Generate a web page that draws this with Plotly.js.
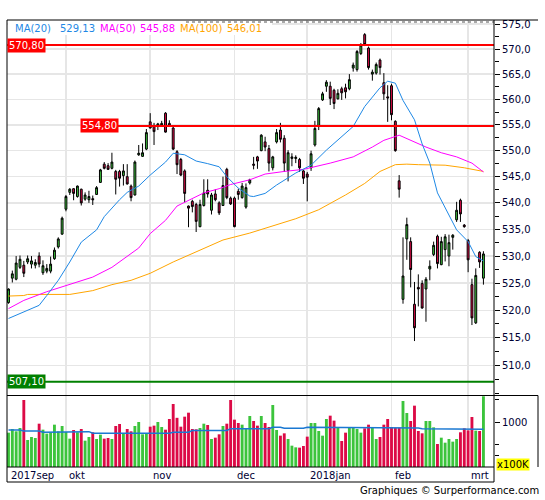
<!DOCTYPE html>
<html><head><meta charset="utf-8">
<script src="https://cdn.plot.ly/plotly-3.0.1.min.js"></script>
<style>html,body{margin:0;padding:0;background:#fff;}#chart{width:545px;height:500px;}</style>
</head><body><div id="chart"></div>
<script>
// ---- data (index = trading day, 0 = 11 Sep 2017) ----
const openP = [521.4,525.9,525.7,527.9,528.3,528.9,528.5,528.3,530.0,526.9,
527.2,527.2,529.5,531.7,534.1,538.8,542.0,542.7,541.2,542.6,
540.7,540.6,540.8,541.6,543.9,547.4,547.1,546.6,546.0,546.0,
545.2,545.0,543.2,541.5,549.2,548.9,550.3,555.6,554.9,554.8,
554.8,557.3,555.3,554.4,549.8,548.3,546.1,539.4,540.3,539.7,
535.5,539.5,542.4,538.6,541.7,540.0,539.5,546.4,540.9,540.9,
542.2,541.0,539.2,543.8,547.4,548.8,550.0,551.7,550.4,546.7,
551.7,554.0,552.4,546.2,548.5,548.5,548.3,546.1,545.5,546.7,
551.1,554.7,559.9,562.6,562.6,561.8,560.1,562.1,562.3,562.1,
566.2,565.9,569.1,572.9,570.2,565.0,565.2,567.8,563.3,560.5,
562.7,555.7,544.2,522.0,533.2,532.7,521.1,524.2,524.9,523.9,
527.6,530.3,533.7,528.4,531.2,530.0,533.5,536.8,540.5,535.8,
532.9,524.7,517.7,530.7,525.9];
const highP = [524.0,527.3,530.0,530.1,529.1,530.1,530.0,529.4,530.7,529.2,
528.5,529.9,531.6,533.5,537.4,541.5,542.8,542.8,543.3,542.7,
542.0,542.3,541.4,543.2,546.5,547.8,547.6,549.6,546.3,546.3,
547.4,547.4,543.5,548.1,551.1,551.4,554.2,557.3,555.4,555.4,
555.8,557.5,555.9,554.6,550.1,548.6,546.4,539.5,540.6,540.0,
540.6,544.5,544.5,541.9,542.6,540.3,545.0,546.7,541.2,541.2,
542.7,543.8,543.7,544.6,548.8,549.0,553.2,552.7,551.1,549.0,
554.2,555.4,553.0,550.1,549.5,549.1,548.6,546.3,545.9,550.0,
555.8,558.5,561.5,563.8,563.5,562.1,562.0,562.5,563.1,565.0,
567.3,569.8,571.2,573.2,570.5,565.9,567.3,568.1,565.2,562.8,
563.1,555.9,545.3,533.5,537.2,533.5,525.2,526.6,525.5,526.1,
529.2,532.7,534.0,533.6,534.1,534.0,534.1,540.2,540.8,536.0,
533.2,525.8,527.7,530.9,530.9];
const lowP = [521.2,525.1,525.5,527.6,526.1,528.5,527.7,527.7,527.9,526.5,
526.8,526.8,529.3,531.4,534.0,538.4,541.5,540.5,541.0,539.5,
540.4,540.0,539.6,541.5,543.8,546.4,546.3,546.4,541.6,543.1,
543.3,543.5,540.3,541.4,549.0,548.8,550.1,554.3,551.1,554.0,
554.7,553.5,554.7,550.1,545.5,545.1,540.1,535.4,538.2,534.5,
535.4,539.3,541.0,537.8,540.3,537.7,539.4,540.7,539.6,535.4,
540.6,540.8,538.9,543.5,546.4,546.5,549.9,549.9,546.0,546.2,
551.4,551.6,545.9,544.1,547.0,547.6,545.9,543.6,540.3,546.1,
550.8,554.0,559.7,561.5,558.9,558.1,560.0,559.9,560.2,561.8,
565.5,565.5,568.8,570.6,565.9,563.7,564.9,564.9,559.9,555.6,
555.9,549.8,541.0,521.2,529.3,524.2,514.4,520.7,520.3,517.9,
525.5,530.0,527.7,528.3,529.0,528.1,531.2,536.4,536.4,535.3,
527.0,517.3,517.5,527.8,524.7];
const closeP = [523.9,526.7,528.7,529.4,526.8,529.5,529.1,528.8,528.5,528.2,
527.7,528.5,531.1,533.2,537.1,541.2,542.6,541.8,543.2,540.0,
541.5,541.2,540.6,542.9,546.3,546.6,546.4,547.8,544.5,544.7,
546.1,543.6,541.0,547.8,549.5,549.6,553.5,554.4,553.7,555.2,
555.3,553.6,554.8,550.3,547.3,545.3,541.8,539.0,539.3,536.5,
539.7,541.9,541.7,541.5,540.6,538.1,543.3,541.0,539.8,535.5,
541.6,543.2,542.9,544.4,547.2,548.0,553.0,550.7,547.6,548.8,
553.5,552.2,547.6,549.6,548.8,548.7,546.7,544.7,544.9,549.4,
554.3,558.2,561.1,563.4,560.2,559.2,561.2,561.3,561.5,563.9,
566.8,569.5,570.8,570.9,566.3,565.4,566.9,566.3,561.1,560.3,
557.0,550.0,542.6,526.3,535.9,527.5,516.8,523.9,520.4,525.7,
528.1,532.0,528.6,532.7,533.6,532.5,533.9,538.6,537.9,535.5,
529.3,518.6,526.4,528.9,530.4];
// volume in units of 100K
const volume = [768,850,798,872,1499,604,671,649,969,835,
746,776,947,798,917,783,634,828,776,850,
589,671,776,626,723,634,649,626,917,962,
761,850,798,917,1007,731,761,902,925,1007,
895,835,1074,1409,1100,902,1126,1215,850,843,
872,969,940,626,656,731,917,969,1499,1059,
984,947,872,1141,1029,925,1141,984,895,1387,
828,701,753,626,477,440,433,470,679,984,
984,805,701,1074,1148,1037,887,582,768,880,
880,850,768,865,947,880,626,671,947,1074,
895,880,880,1476,1208,1029,1372,805,753,1029,
1029,887,515,656,544,626,567,626,776,865,
820,1119,813,805,1582];
const volMaIdx = [0,3,4,8,9,16,17,21,22,42,43,47,48,57,58,68,69,71,72,77,78,95,96,107,108,117,118,124];
const volMaVal = [828,828,805,805,776,776,790,790,754,754,776,776,816,816,857,857,888,888,865,865,888,888,872,872,857,857,843,843];
const ma20Idx = [0,4,8,10,13,16,19,23,25,29,31,34,37,41,43,46,49,52,55,57,60,63,64,67,70,75,79,83,86,90,93,97,99,101,103,106,108,110,112,115,117,120,122,124];
const ma20Val = [518.5,519.7,520.9,522.7,525.5,528.9,532.6,534.9,537.4,540.6,542.0,543.2,545.3,547.8,549.5,549.2,548.0,547.5,546.9,545.0,542.8,541.3,541.2,541.8,543.4,545.7,547.2,550.1,552.0,554.7,558.6,562.3,563.6,563.2,559.8,556.0,551.3,547.6,541.9,537.5,534.9,532.7,529.9,529.1];
const ma50Idx = [0,4,10,17,22,27,31,34,37,41,44,48,51,55,58,63,67,72,77,84,90,95,98,102,104,109,113,117,121,124];
const ma50Val = [520.3,521.8,523.4,524.9,526.1,527.9,530.0,531.5,534.2,536.7,539.4,540.9,541.9,542.7,543.5,544.4,545.5,546.0,546.4,547.6,548.8,550.7,552.0,553.0,552.3,550.7,549.6,548.8,547.6,545.9];
const ma100Idx = [0,4,5,16,22,27,32,37,43,50,56,63,75,81,88,93,97,101,104,107,114,119,124];
const ma100Val = [522.6,522.7,522.9,522.9,523.6,524.7,525.5,526.8,528.9,531.1,533.0,534.3,537.0,538.7,541.5,543.7,546.0,547.3,547.4,547.3,547.2,546.7,546.0];
const monthIdx = [0,15,37,59,78,100,120];
const monthLabels = ['2017sep','okt','nov','dec','2018jan','feb','mrt'];
const levels = [570.8, 554.8, 507.1];
const levelLabels = ['570,80','554,80','507,10'];
const legendNames = ['MA(20)','529,13','MA(50)','545,88','MA(100)','546,01'];
const priceTicks = [510,515,520,525,530,535,540,545,550,555,560,565,570,575];
const priceMinor = [505,507.5,512.5,517.5,522.5,527.5,532.5,537.5,542.5,547.5,552.5,557.5,562.5,567.5,572.5];
const volTicks = [1000];
const volMinor = [250,500,1500];

// ---- layout helpers ----
const W=545,H=500,ML=7,MR=51,MT=20,MB=33;
const PW=W-ML-MR, PH=H-MT-MB;
const PX = p => (p-ML)/PW;
const PY = p => (H-MB-p)/PH;
const XR = [-0.39, 126.76];
const PR = [Math.log10(504.65), Math.log10(575.85)];
const PD = [PY(395.5), 1];
const VD = [0, PY(396)];
const pYprice = v => PD[0] + (Math.log10(v)-PR[0])/(PR[1]-PR[0])*(PD[1]-PD[0]);

const GREEN='#3cc43c', RED='#dc0a46';
const C20='#1e88e5', C50='#ff00ff', C100='#ffa500';
const idx = openP.map((_,i)=>i);
const volColors = idx.map(i => closeP[i] > openP[i] ? GREEN : RED);

const traces = [
  {type:'bar', x:idx, y:volume, xaxis:'x', yaxis:'y2', width:0.75,
   marker:{color:volColors, line:{width:0}}, hoverinfo:'skip'},
  {type:'scatter', mode:'lines', x:volMaIdx, y:volMaVal, xaxis:'x', yaxis:'y2',
   line:{color:'#1a78d2', width:1.5}, hoverinfo:'skip'},
  {type:'candlestick', x:idx, open:openP, high:highP, low:lowP, close:closeP,
   xaxis:'x', yaxis:'y', whiskerwidth:0,
   increasing:{line:{color:'#000', width:1}, fillcolor:GREEN},
   decreasing:{line:{color:'#000', width:1}, fillcolor:RED}, hoverinfo:'skip'},
  {type:'scatter', mode:'lines', x:ma100Idx, y:ma100Val, line:{color:C100, width:1}, hoverinfo:'skip'},
  {type:'scatter', mode:'lines', x:ma50Idx, y:ma50Val, line:{color:C50, width:1}, hoverinfo:'skip'},
  {type:'scatter', mode:'lines', x:ma20Idx, y:ma20Val, line:{color:C20, width:1}, hoverinfo:'skip'},
  {type:'scatter', mode:'lines', x:[XR[0],XR[1]], y:[levels[0],levels[0]], line:{color:'#ff0000', width:2}, hoverinfo:'skip'},
  {type:'scatter', mode:'lines', x:[24,XR[1]], y:[levels[1],levels[1]], line:{color:'#ff0000', width:2}, hoverinfo:'skip'},
  {type:'scatter', mode:'lines', x:[XR[0],XR[1]], y:[levels[2],levels[2]], line:{color:'#008000', width:2}, hoverinfo:'skip'}
];

const ln = (x0,y0,x1,y1,extra) => Object.assign({type:'line', xref:'paper', yref:'paper', x0:x0,y0:y0,x1:x1,y1:y1, line:{color:'#000', width:1}}, extra||{});
const shapes = [
  {type:'rect', xref:'paper', yref:'paper', x0:PX(8), x1:PX(272), y0:PY(35), y1:PY(20.5), fillcolor:'#fff', line:{width:0}},
  ln(PX(186), PY(22), 1, PY(22), {line:{color:'#555', width:1, dash:'dot'}}),
  ln(0, 1, PX(538), 1),
  ln(0, PY(482), 0, 1),
  ln(1, PY(482), 1, 1),
  ln(0, PD[0], PX(538), PD[0]),
  ln(0, 0, 1, 0),
  ln(0, PY(482), 1, PY(482)),
  ln(PX(538), PD[0], PX(538), 0)
];

const legendX = [13,58,98,138,178,225];
const legendC = [C20,C20,C50,C50,C100,C100];
const annotations = [];
legendNames.forEach((t,i)=>annotations.push({xref:'paper', yref:'paper', x:PX(legendX[i]), y:PY(28), xanchor:'left', yanchor:'middle', text:t, showarrow:false, font:{color:legendC[i], size:10}}));
const lvlX = [7, 80, 7];
const lvlBg = ['#ff0000','#ff0000','#008000'];
levels.forEach((v,i)=>annotations.push({xref:'paper', yref:'paper', x:PX(lvlX[i]), y:pYprice(v), xanchor:'left', yanchor:'middle', text:levelLabels[i], showarrow:false, bgcolor:lvlBg[i], borderpad:1, font:{color:'#fff', size:10}}));
monthIdx.forEach((m,i)=>annotations.push({xref:'x', yref:'paper', x:m, y:0, xanchor:'left', yanchor:'top', xshift:1, yshift:-1, text:monthLabels[i], showarrow:false, font:{color:'#000033', size:10}}));
annotations.push({xref:'paper', yref:'paper', x:PX(495.5), y:PY(464), xanchor:'left', yanchor:'middle', text:'x100K', showarrow:false, bgcolor:'#ffff00', borderpad:0, font:{color:'#000', size:10}});
annotations.push({xref:'paper', yref:'paper', x:PX(541), y:PY(491), xanchor:'right', yanchor:'middle', text:'Graphiques © Surperformance.com', showarrow:false, font:{color:'#000', size:10}});

const layout = {
  width:W, height:H, margin:{l:ML, r:MR, t:MT, b:MB, pad:0},
  paper_bgcolor:'#fff', plot_bgcolor:'#fff', showlegend:false,
  font:{family:'DejaVu Sans, Verdana, sans-serif', size:10, color:'#000033'},
  xaxis:{range:XR, tickvals:monthIdx.slice(1), showticklabels:false, ticks:'', showgrid:true,
         gridcolor:'#e6e6e6', gridwidth:1.5, zeroline:false, showline:false, rangeslider:{visible:false}, fixedrange:true},
  yaxis:{domain:PD, type:'log', range:PR, side:'right', tickvals:priceTicks,
         ticktext:priceTicks.map(v=>v.toFixed(1).replace('.',',')), ticks:'outside', ticklen:5, tickwidth:1, tickcolor:'#000',
         showgrid:true, gridcolor:'#e6e6e6', gridwidth:1.5, showline:false, zeroline:false, fixedrange:true,
         minor:{tickvals:priceMinor, ticks:'outside', ticklen:4, tickwidth:1, tickcolor:'#000', showgrid:false}},
  yaxis2:{domain:VD, range:[0,1588], side:'right', anchor:'x', tickvals:volTicks, ticktext:volTicks.map(String),
          ticks:'outside', ticklen:5, tickwidth:1, tickcolor:'#000', showgrid:false, showline:false, zeroline:false, fixedrange:true,
          minor:{tickvals:volMinor, ticks:'outside', ticklen:4, tickwidth:1, tickcolor:'#000', showgrid:false}},
  shapes:shapes, annotations:annotations
};
Plotly.newPlot('chart', traces, layout, {staticPlot:true, displayModeBar:false});
</script></body></html>
